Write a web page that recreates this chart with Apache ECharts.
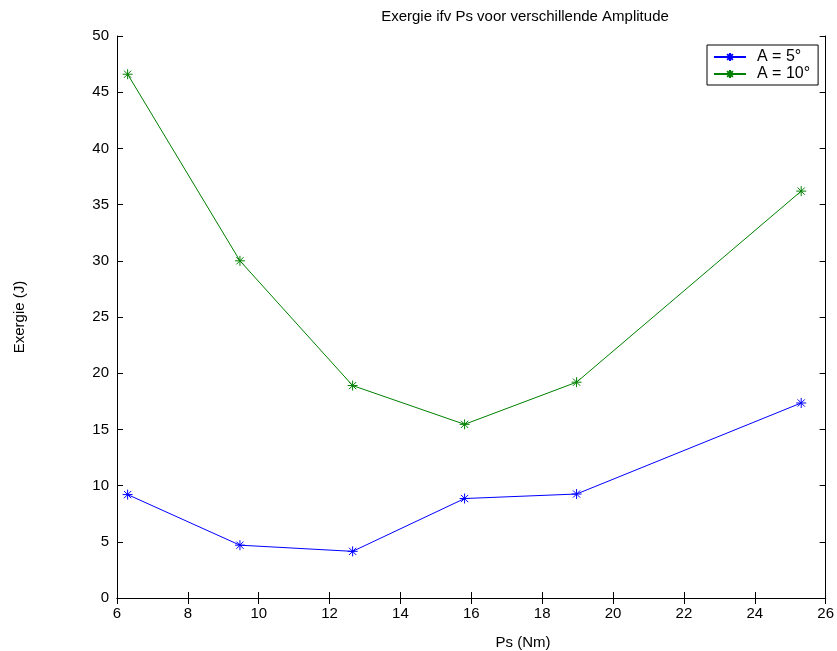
<!DOCTYPE html>
<html>
<head>
<meta charset="utf-8">
<script src="https://cdn.jsdelivr.net/npm/echarts@6/dist/echarts.min.js"></script>
<style>html,body{margin:0;padding:0;background:#fff}#c{width:837px;height:651px}</style>
</head>
<body>
<div id="c"></div>
<script>
const titleText = 'Exergie ifv Ps voor verschillende Amplitude';
const xLabel = 'Ps (Nm)';
const yLabel = 'Exergie (J)';
const psValues = [6.3, 9.47, 12.65, 15.81, 18.97, 25.31];
const seriesNames = ['A = 5°', 'A = 10°'];
const exergyA5 = [9.2, 4.7, 4.15, 8.85, 9.25, 17.35];
const exergyA10 = [46.6, 30.0, 18.9, 15.45, 19.2, 36.2];
const seriesColors = ['#0000ff', '#008000'];

const FONT = '"Liberation Sans", Arial, sans-serif';
const star = 'path://M-5 0L5 0M0 -5L0 5M-3.6 -3.6L3.6 3.6M-3.6 3.6L3.6 -3.6';

function mkSeries(name, vals, color) {
  return {
    name: name, type: 'line',
    data: psValues.map((x, i) => [x, vals[i]]),
    lineStyle: { color: color, width: 1 },
    itemStyle: { color: 'rgba(0,0,0,0)', borderColor: color, borderWidth: 1 },
    symbol: star, symbolSize: 10, showSymbol: true,
    animation: false
  };
}

const chart = echarts.init(document.getElementById('c'));
const axCommon = {
  axisLine: { show: true, lineStyle: { color: '#000', width: 1 } },
  axisTick: { show: true, inside: true, length: 6, lineStyle: { color: '#000' } },
  splitLine: { show: false }
};
chart.setOption({
  backgroundColor: '#fff',
  animation: false,
  grid: { left: 117, top: 36, width: 710, height: 562 },
  xAxis: [
    Object.assign({ type: 'value', min: 6, max: 26, interval: 2, position: 'bottom',
      axisLabel: { color: '#000', fontFamily: FONT, fontSize: 15, margin: 8 } }, axCommon),
    Object.assign({ type: 'value', min: 6, max: 26, interval: 2, position: 'top',
      axisLabel: { show: false } }, axCommon)
  ],
  yAxis: [
    Object.assign({ type: 'value', min: 0, max: 50, interval: 5, position: 'left',
      axisLabel: { color: '#000', fontFamily: FONT, fontSize: 15, margin: 8 } }, axCommon),
    Object.assign({ type: 'value', min: 0, max: 50, interval: 5, position: 'right',
      axisLabel: { show: false } }, axCommon)
  ],
  legend: {
    data: seriesNames,
    orient: 'vertical',
    left: 707, top: 45,
    itemWidth: 32, itemHeight: 10, itemGap: 1,
    padding: [4, 8, 3, 6],
    borderColor: '#000', borderWidth: 1, backgroundColor: '#fff',
    textStyle: { color: '#000', fontFamily: FONT, fontSize: 16, lineHeight: 16, padding: [0, 0, 0, 6] }
  },
  graphic: [
    { type: 'text', x: 525, y: 17, style: { text: titleText, fontFamily: FONT, fontSize: 15, fill: '#000', align: 'center', verticalAlign: 'middle' } },
    { type: 'text', x: 523, y: 643, style: { text: xLabel, fontFamily: FONT, fontSize: 15, fill: '#000', align: 'center', verticalAlign: 'middle' } },
    { type: 'text', x: 20, y: 317, rotation: Math.PI / 2, style: { text: yLabel, fontFamily: FONT, fontSize: 15, fill: '#000', align: 'center', verticalAlign: 'middle' } }
  ],
  series: [
    mkSeries(seriesNames[0], exergyA5, seriesColors[0]),
    mkSeries(seriesNames[1], exergyA10, seriesColors[1])
  ]
});
</script>
</body>
</html>
